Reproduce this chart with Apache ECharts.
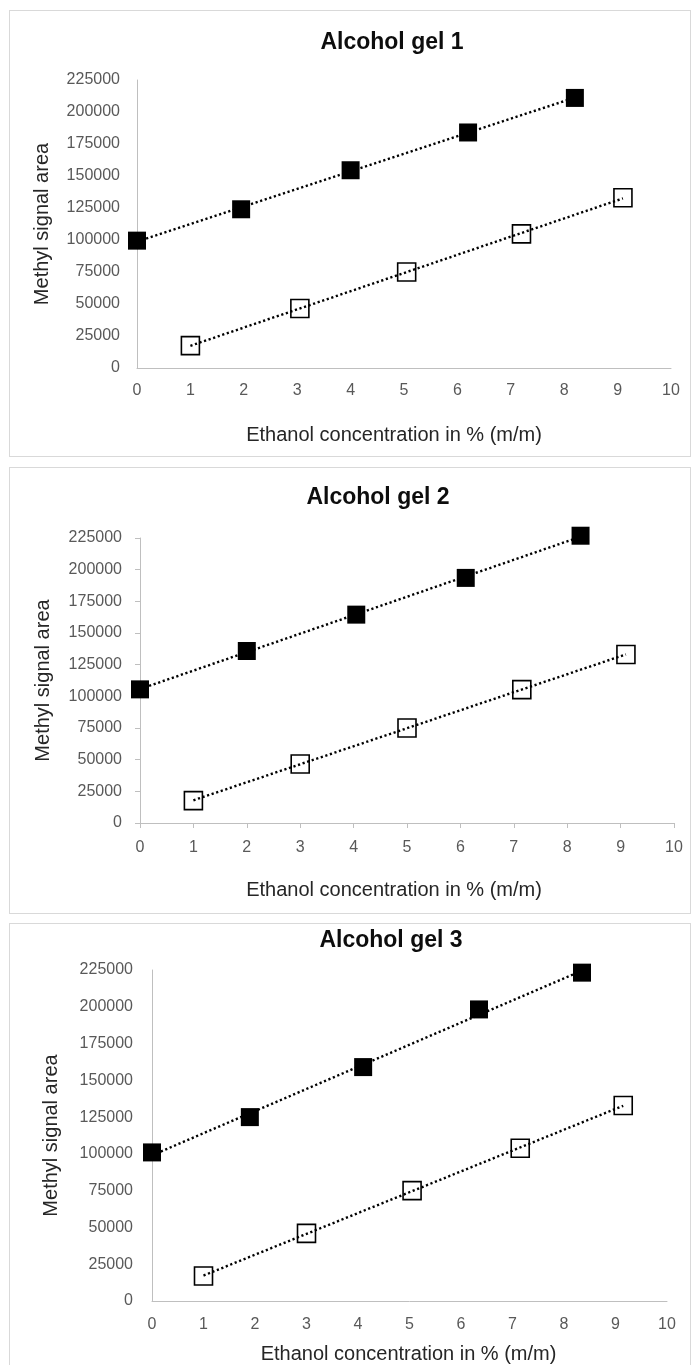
<!DOCTYPE html>
<html>
<head>
<meta charset="utf-8">
<script src="https://cdn.jsdelivr.net/npm/echarts@6/dist/echarts.min.js"></script>
<style>
  html, body { margin: 0; padding: 0; background: #fff; }
  #page { position: relative; width: 695px; height: 1365px; overflow: hidden; }
  #chart { position: absolute; left: 0; top: 0; width: 695px; height: 1365px; }
  .frame { position: absolute; box-sizing: border-box; border: 1px solid #d9d9d9; background: #fff; }
</style>
</head>
<body>
<div id="page">
  <div class="frame" style="left:9px; top:10px; width:682px; height:447px;"></div>
  <div class="frame" style="left:9px; top:467px; width:682px; height:447px;"></div>
  <div class="frame" style="left:9px; top:923px; width:682px; height:460px;"></div>
  <div id="chart"></div>
</div>
<script>
// Chart titles and axis titles
const panelTitles = ['Alcohol gel 1', 'Alcohol gel 2', 'Alcohol gel 3'];
const xAxisTitle = 'Ethanol concentration in % (m/m)';
const yAxisTitle = 'Methyl signal area';

// Axis ranges / tick steps
const xMin = 0, xMax = 10, xStep = 1;
const yMin = 0, yMax = 225000, yStep = 25000;

// Alcohol gel 1
const gel1FilledX = [0, 1.95, 4.0, 6.2, 8.2];
const gel1FilledY = [99500, 124000, 154500, 184000, 211000];
const gel1OpenX = [1.0, 3.05, 5.05, 7.2, 9.1];
const gel1OpenY = [17500, 46500, 75000, 104800, 133000];

// Alcohol gel 2
const gel2FilledX = [0, 2.0, 4.05, 6.1, 8.25];
const gel2FilledY = [105500, 135800, 164500, 193500, 226800];
const gel2OpenX = [1.0, 3.0, 5.0, 7.15, 9.1];
const gel2OpenY = [17700, 46600, 75000, 105300, 133000];

// Alcohol gel 3
const gel3FilledX = [0, 1.9, 4.1, 6.35, 8.35];
const gel3FilledY = [101000, 125000, 159000, 198200, 223200];
const gel3OpenX = [1.0, 3.0, 5.05, 7.15, 9.15];
const gel3OpenY = [17000, 46000, 75000, 103800, 132900];

const panels = [
  { filled: [gel1FilledX, gel1FilledY], open: [gel1OpenX, gel1OpenY] },
  { filled: [gel2FilledX, gel2FilledY], open: [gel2OpenX, gel2OpenY] },
  { filled: [gel3FilledX, gel3FilledY], open: [gel3OpenX, gel3OpenY] }
];

// Page layout of each panel (plot rectangle, label gaps, title spots)
const layout = [
  { grid: { left: 137, top: 80, width: 534, height: 288 }, titleX: 392, titleY: 31,
    xLabelMargin: 15, yLabelMargin: 17, xNameGap: 57, yNameGap: 85, ticks: false, xNameShift: 20 },
  { grid: { left: 140, top: 538, width: 534, height: 285 }, titleX: 378, titleY: 486,
    xLabelMargin: 17, yLabelMargin: 18, xNameGap: 57, yNameGap: 87, ticks: true, xNameShift: 26 },
  { grid: { left: 152, top: 970, width: 515, height: 333 }, titleX: 391, titleY: 929,
    xLabelMargin: 16, yLabelMargin: 19, xNameGap: 43, yNameGap: 91, ticks: false, xNameShift: 2 }
];

const FONT = "'Liberation Sans', Arial, sans-serif";

function zip(xs, ys) { return xs.map((x, i) => [x, ys[i]]); }

// Least-squares linear trendline spanning the series' x range
function trend(xs, ys) {
  const n = xs.length;
  const mx = xs.reduce((a, b) => a + b, 0) / n;
  const my = ys.reduce((a, b) => a + b, 0) / n;
  let sxy = 0, sxx = 0;
  for (let i = 0; i < n; i++) { sxy += (xs[i] - mx) * (ys[i] - my); sxx += (xs[i] - mx) ** 2; }
  const slope = sxy / sxx, icpt = my - slope * mx;
  const x0 = Math.min(...xs), x1 = Math.max(...xs);
  return [[x0, icpt + slope * x0], [x1, icpt + slope * x1]];
}

const option = {
  animation: false,
  backgroundColor: 'transparent',
  title: [], grid: [], xAxis: [], yAxis: [], series: []
};

layout.forEach((L, i) => {
  option.title.push({
    text: panelTitles[i], left: L.titleX, top: L.titleY, textAlign: 'center', padding: 0,
    textStyle: { fontFamily: FONT, fontSize: 23, fontWeight: 'bold', color: '#0d0d0d' }
  });
  option.grid.push(Object.assign({ containLabel: false }, L.grid));
  const axisLine = { show: true, lineStyle: { color: '#bfbfbf', width: 1 } };
  const tick = { show: L.ticks, length: 5, lineStyle: { color: '#bfbfbf' } };
  option.xAxis.push({
    type: 'value', gridIndex: i, min: xMin, max: xMax, interval: xStep,
    axisLine, axisTick: tick, splitLine: { show: false },
    axisLabel: { margin: L.xLabelMargin, fontFamily: FONT, fontSize: 16, color: '#595959',
      formatter: v => String(v) },
    name: xAxisTitle, nameLocation: 'middle', nameGap: L.xNameGap,
    nameTextStyle: { fontFamily: FONT, fontSize: 20, color: '#262626', padding: [0, L.xNameShift, 0, 0] }
  });
  option.yAxis.push({
    type: 'value', gridIndex: i, min: yMin, max: yMax, interval: yStep,
    axisLine, axisTick: tick, splitLine: { show: false },
    axisLabel: { margin: L.yLabelMargin, fontFamily: FONT, fontSize: 16, color: '#595959',
      formatter: v => String(v) },
    name: yAxisTitle, nameLocation: 'middle', nameGap: L.yNameGap,
    nameTextStyle: { fontFamily: FONT, fontSize: 20, color: '#262626' }
  });

  const P = panels[i];
  const dotted = { color: '#000', width: 2.4, type: [2.2, 2.6], cap: 'butt' };
  option.series.push(
    { type: 'line', xAxisIndex: i, yAxisIndex: i, data: trend(P.filled[0], P.filled[1]),
      symbol: 'none', lineStyle: dotted, z: 2, silent: true, clip: false },
    { type: 'line', xAxisIndex: i, yAxisIndex: i, data: trend(P.open[0], P.open[1]),
      symbol: 'none', lineStyle: dotted, z: 4, silent: true, clip: false },
    { type: 'scatter', xAxisIndex: i, yAxisIndex: i, data: zip(P.filled[0], P.filled[1]),
      symbol: 'rect', symbolSize: 18, itemStyle: { color: '#000', opacity: 1 }, z: 3, clip: false },
    { type: 'scatter', xAxisIndex: i, yAxisIndex: i, data: zip(P.open[0], P.open[1]),
      symbol: 'rect', symbolSize: 18,
      itemStyle: { color: 'rgba(255,255,255,0)', borderColor: '#000', borderWidth: 1.6, opacity: 1 },
      z: 3, clip: false }
  );
});

const chart = echarts.init(document.getElementById('chart'), null, { renderer: 'canvas' });
chart.setOption(option);
</script>
</body>
</html>
